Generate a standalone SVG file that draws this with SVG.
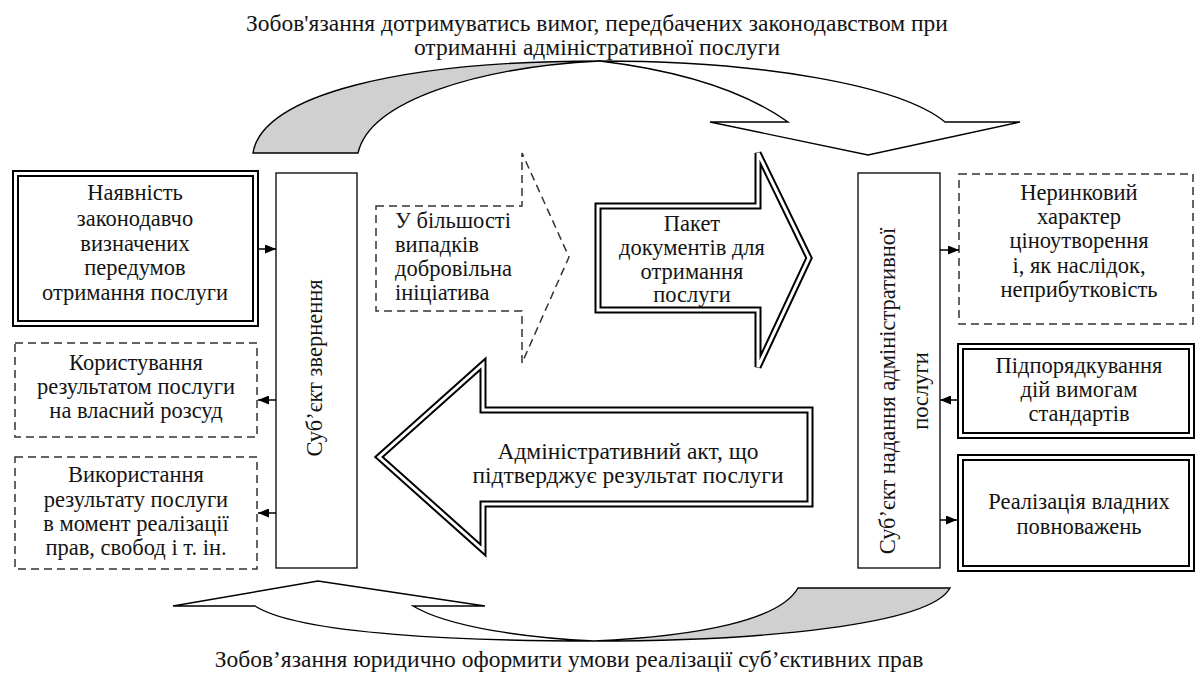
<svg xmlns="http://www.w3.org/2000/svg" width="1195" height="692" viewBox="0 0 1195 692">
<defs>
<marker id="ah" markerWidth="11" markerHeight="9" refX="11" refY="4.5" orient="auto" markerUnits="userSpaceOnUse">
<path d="M0,0 L11,4.5 L0,9 Z" fill="#000"/>
</marker>
<style>
text{font-family:"Liberation Serif","Times New Roman",serif;fill:#141414;font-size:22.5px}
.c{text-anchor:middle}
.big{font-size:23.5px}
.box{fill:#fff;stroke:#000;stroke-width:1.3}
.dash{fill:#fff;stroke:#333;stroke-width:1.5;stroke-dasharray:8 5}
.dblo{fill:#fff;stroke:#000;stroke-width:7;stroke-linejoin:miter}
.dbli{fill:none;stroke:#fff;stroke-width:3;stroke-linejoin:miter}
.band{fill:#fff;stroke:#000;stroke-width:1.4;stroke-linejoin:miter}
.back{fill:#d0d0d0;stroke:#000;stroke-width:1.4}
.con{stroke:#000;stroke-width:1.5;fill:none;marker-end:url(#ah)}
</style>
</defs>
<rect width="1195" height="692" fill="#fff"/>

<g id="top-label">
<text class="c big" x="597" y="31">Зобов'язання дотримуватись вимог, передбачених законодавством при</text>
<text class="c big" x="597" y="55">отриманні адміністративної послуги</text>
</g>

<g id="top-curved-arrow">
<path class="back" d="M253,153 C262,95 400,61 600,61 C480,67 370,100 358,153 Z"/>
<path class="band" d="M600,61 C760,61 900,85 945,122 L1020,122 L868,155 L710,122 L788,122 C750,95 690,72 600,61 Z"/>
</g>

<g id="bottom-curved-arrow">
<path class="back" d="M594,641 C760,641 930,625 950,588 L798,588 C780,620 700,636 594,641 Z"/>
<path class="band" d="M255,606 C300,635 470,641 594,641 C530,638 450,628 413,606 L485,606 L318,581 L173,606 Z"/>
</g>

<g id="bottom-label">
<text class="c big" x="569" y="667">Зобов’язання юридично оформити умови реалізації суб’єктивних прав</text>
</g>

<g id="n-umovy">
<rect class="dblo" x="15.5" y="173.5" width="240" height="150"/>
<rect class="dbli" x="15.5" y="173.5" width="240" height="150"/>
<text class="c" x="135" y="200">Наявність</text>
<text class="c" x="135" y="226">законодавчо</text>
<text class="c" x="135" y="251">визначених</text>
<text class="c" x="135" y="275">передумов</text>
<text class="c" x="135" y="300">отримання послуги</text>
</g>

<g id="n-korystuvannia">
<rect class="dash" x="15" y="343" width="242" height="94"/>
<text class="c" x="136" y="370">Користування</text>
<text class="c" x="136" y="394">результатом послуги</text>
<text class="c" x="136" y="418">на власний розсуд</text>
</g>

<g id="n-vykorystannia">
<rect class="dash" x="15" y="457" width="242" height="112"/>
<text class="c" x="136" y="482">Використання</text>
<text class="c" x="136" y="507">результату послуги</text>
<text class="c" x="136" y="531">в момент реалізації</text>
<text class="c" x="136" y="555">прав, свобод і т. ін.</text>
</g>

<g id="n-subiekt-zvernennia">
<rect class="box" x="276" y="173" width="81" height="395"/>
<text class="c" transform="translate(322,368) rotate(-90)" x="0" y="0">Суб’єкт звернення</text>
</g>

<g id="n-initsiatyva">
<path class="dash" d="M376,206 L522,206 L522,153 L569,257 L522,363 L522,311 L376,311 Z"/>
<text x="395" y="228">У більшості</text>
<text x="395" y="252">випадків</text>
<text x="395" y="276">добровільна</text>
<text x="395" y="300">ініціатива</text>
</g>

<g id="n-paket">
<path class="dblo" d="M598,206 L758,206 L758,153 L809,258 L758,367 L758,310 L598,310 Z"/>
<path class="dbli" d="M598,206 L758,206 L758,153 L809,258 L758,367 L758,310 L598,310 Z"/>
<text class="c" x="692" y="231">Пакет</text>
<text class="c" x="692" y="255">документів для</text>
<text class="c" x="692" y="279">отримання</text>
<text class="c" x="692" y="302">послуги</text>
</g>

<g id="n-akt">
<path class="dblo" d="M810,410 L483,410 L483,364 L379,457 L483,550 L483,504 L810,504 Z"/>
<path class="dbli" d="M810,410 L483,410 L483,364 L379,457 L483,550 L483,504 L810,504 Z"/>
<text class="c big" x="628" y="459">Адміністративний акт, що</text>
<text class="c big" x="628" y="483">підтверджує результат послуги</text>
</g>

<g id="n-subiekt-nadannia">
<rect class="box" x="858" y="173" width="82" height="395"/>
<g transform="translate(880,391) rotate(-90)">
<text class="c" x="0" y="15">Суб’єкт надання адміністративної</text>
<text class="c" x="0" y="48">послуги</text>
</g>
</g>

<g id="n-nerynkovyi">
<rect class="dash" x="959" y="174" width="234" height="150"/>
<text class="c" x="1079" y="200">Неринковий</text>
<text class="c" x="1079" y="224">характер</text>
<text class="c" x="1079" y="248">ціноутворення</text>
<text class="c" x="1079" y="273">і, як наслідок,</text>
<text class="c" x="1079" y="297">неприбутковість</text>
</g>

<g id="n-pidporiadkuvannia">
<rect class="dblo" x="960.5" y="346.5" width="231" height="89"/>
<rect class="dbli" x="960.5" y="346.5" width="231" height="89"/>
<text class="c" x="1079" y="373">Підпорядкування</text>
<text class="c" x="1079" y="397">дій вимогам</text>
<text class="c" x="1079" y="421">стандартів</text>
</g>

<g id="n-realizatsiia">
<rect class="dblo" x="960.5" y="457.5" width="231" height="111"/>
<rect class="dbli" x="960.5" y="457.5" width="231" height="111"/>
<text class="c" x="1079" y="509">Реалізація владних</text>
<text class="c" x="1079" y="534">повноважень</text>
</g>

<g id="connectors">
<line class="con" x1="259" y1="249" x2="276" y2="249"/>
<line class="con" x1="276" y1="400" x2="258" y2="400"/>
<line class="con" x1="276" y1="513" x2="258" y2="513"/>
<line class="con" x1="940" y1="250" x2="959" y2="250"/>
<line class="con" x1="957" y1="400" x2="940" y2="400"/>
<line class="con" x1="940" y1="520" x2="957" y2="520"/>
</g>
</svg>
